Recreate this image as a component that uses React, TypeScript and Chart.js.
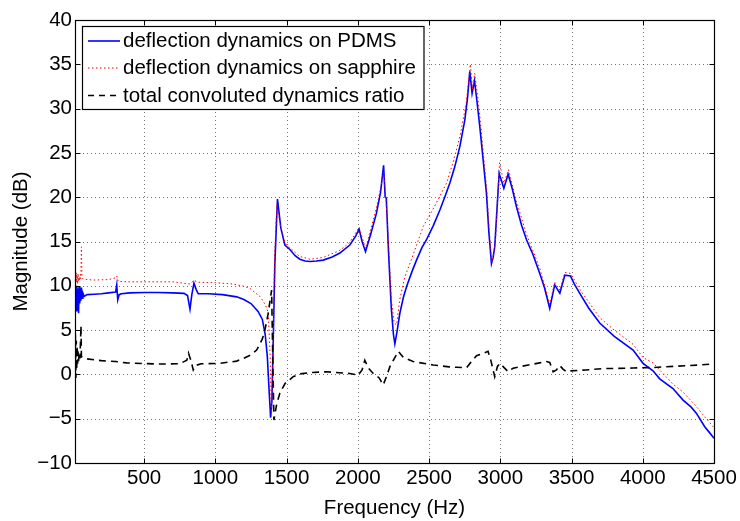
import React, { useEffect, useRef } from "react";
import { Chart, registerables } from "chart.js";

Chart.register(...registerables);

// ---------------- data ----------------
const xTickValues = [500, 1000, 1500, 2000, 2500, 3000, 3500, 4000, 4500];
const yTickValues = [-10, -5, 0, 5, 10, 15, 20, 25, 30, 35, 40];

const seriesLabels = [
  "deflection dynamics on PDMS",
  "deflection dynamics on sapphire",
  "total convoluted dynamics ratio",
];

const pdmsFreq = [
  15, 20, 24, 28, 32, 36, 40, 44, 48, 52, 56, 60, 65, 70, 80, 100, 150, 200, 250, 300,
  308, 315, 325, 340, 400, 500, 600, 700, 780, 805, 822, 835, 850, 865, 880, 950, 1050,
  1150, 1200, 1250, 1300, 1330, 1350, 1365, 1378, 1388, 1397, 1408, 1418, 1436, 1460,
  1488, 1523, 1560, 1593, 1630, 1664, 1710, 1757, 1820, 1874, 1944, 1985, 2009, 2030,
  2054, 2090, 2131, 2160, 2181, 2192, 2200, 2215, 2235, 2250, 2260, 2275, 2295, 2320,
  2342, 2380, 2412, 2450, 2482, 2530, 2576, 2610, 2646, 2680, 2716, 2751, 2770, 2786, 2802,
  2819, 2835, 2856, 2878, 2903, 2920, 2938, 2950, 2961, 2980, 2992, 3025, 3055, 3085,
  3114, 3150, 3184, 3230, 3277, 3310, 3347, 3382, 3418, 3453, 3493, 3520, 3558, 3620,
  3698, 3800, 3932, 4002, 4072, 4119, 4212, 4283, 4340, 4377, 4435, 4470, 4500,
];
const pdmsDb = [
  7.8, 9.6, 7.2, 10.0, 7.6, 9.7, 6.9, 9.9, 8.0, 9.4, 8.3, 9.8, 8.6, 9.2, 8.8, 9.0, 9.05, 9.1, 9.2, 9.3,
  10.1, 8.4, 9.0, 9.1, 9.2, 9.25, 9.25, 9.2, 9.15, 8.9, 7.35, 9.0, 10.3, 9.6, 9.1, 9.1, 9.0,
  8.75, 8.45, 8.0, 7.1, 6.2, 4.5, 2.0, -2.0, -4.9, -3.0, 5.0, 12.6, 19.8, 16.5,
  14.6, 14.1, 13.4, 13.0, 12.8, 12.75, 12.8, 12.9, 13.25, 13.7, 14.6, 15.6, 16.4, 15.0,
  13.85, 15.8, 18.2, 20.6, 23.6, 20.0, 19.9, 14.0, 7.5, 4.5, 3.45, 4.8, 6.9, 8.7,
  9.9, 11.6, 12.9, 14.3, 15.2, 16.8, 18.55, 20.0, 21.6, 23.4, 25.7, 28.7, 31.2, 34.2, 31.7,
  33.15, 31.0, 28.0, 24.5, 20.4, 16.0, 12.5, 13.2, 14.4, 19.5, 22.7, 21.0, 22.6, 20.9,
  18.9, 16.8, 15.2, 13.5, 11.4, 9.8, 7.45, 10.1, 9.15, 11.2, 11.1, 10.2, 9.15, 7.5,
  5.8, 4.3, 2.75, 1.25, 0.4, -0.5, -1.6, -2.9, -3.7, -4.4, -5.9, -6.6, -7.2,
];

const sapphireFreq = [
  15, 18, 21, 24, 27, 30, 33, 36, 40, 44, 48, 52, 56, 60, 64, 70, 100, 150, 250, 300,
  308, 318, 380, 500, 700, 822, 850, 880, 1000, 1125, 1200, 1243, 1313, 1350, 1371, 1385,
  1393, 1402, 1415, 1432, 1460, 1490, 1530, 1593, 1664, 1757, 1874, 1944, 2009, 2054,
  2131, 2160, 2181, 2195, 2215, 2235, 2255, 2272, 2295, 2330, 2377, 2459, 2540, 2623,
  2670, 2716, 2760, 2790, 2805, 2820, 2840, 2860, 2905, 2922, 2940, 2952, 2966,
  2985, 2995, 3025, 3058, 3114, 3184, 3277, 3347, 3382, 3418, 3453, 3493, 3558, 3698,
  3800, 3932, 4002, 4072, 4212, 4283, 4377, 4435, 4500,
];
const sapphireDb = [
  10.6, 11.3, 10.3, 11.5, 10.4, 11.2, 10.2, 11.4, 10.5, 11.0, 10.6, 11.3, 10.8, 14.4, 10.9, 10.8, 10.7, 10.65, 10.7, 10.9,
  11.1, 10.5, 10.45, 10.45, 10.45, 10.2, 10.6, 10.4, 10.35, 10.2, 9.95, 9.7, 8.8, 7.9, 7.0, 2.0,
  -4.3, 0.0, 13.0, 19.2, 16.5, 14.8, 14.2, 13.3, 13.0, 13.2, 14.0, 14.9, 16.6, 14.2,
  18.8, 21.0, 22.8, 20.4, 15.0, 8.5, 5.8, 5.6, 8.5, 11.0, 13.0, 16.7, 19.0, 21.6,
  24.0, 26.8, 30.5, 35.0, 32.2, 34.0, 31.5, 28.6, 20.8, 16.4, 12.7, 13.6, 15.0,
  21.0, 23.9, 21.6, 23.1, 19.5, 15.8, 12.0, 7.9, 10.4, 9.5, 11.5, 11.4, 9.6, 6.4,
  5.0, 3.4, 1.9, 1.3, -1.1, -2.0, -3.65, -4.8, -6.0,
];

const ratioFreq = [
  15, 18, 21, 24, 27, 30, 33, 36, 40, 44, 50, 57, 60, 70, 100, 200, 300, 378, 500, 611,
  750, 800, 812, 830, 845, 860, 900, 1032, 1150, 1196, 1250, 1290, 1330, 1348, 1370, 1395,
  1403, 1411, 1430, 1453, 1490, 1523, 1546, 1593, 1664, 1781, 1944, 2002, 2030, 2049,
  2075, 2108, 2150, 2178, 2200, 2225, 2260, 2285, 2320, 2388, 2529, 2640, 2693, 2763,
  2790, 2833, 2914, 2935, 2961, 2980, 2997, 3025, 3055, 3090, 3137, 3277, 3324, 3347,
  3371, 3394, 3418, 3440, 3464, 3488, 3600, 3721, 3932, 4072, 4400, 4500,
];
const ratioDb = [
  1.0, 4.5, -0.4, 3.8, 0.5, 3.2, 1.2, 2.6, 1.5, 2.4, 1.8, 5.5, 2.0, 1.9, 1.75, 1.55, 1.45, 1.3, 1.22, 1.17,
  1.2, 1.6, 2.4, 1.5, 0.5, 1.0, 1.2, 1.25, 1.5, 1.8, 2.2, 2.75, 4.0, 5.0, 6.8, 9.5,
  2.0, -5.15, -3.4, -2.1, -1.0, -0.6, -0.26, 0.05, 0.2, 0.3, 0.1, -0.07, 0.5, 1.6,
  0.7, 0.1, -0.4, -1.2, -0.3, 0.87, 1.9, 2.6, 1.9, 1.45, 1.06, 0.85, 0.8, 0.75,
  1.3, 2.1, 2.6, 1.5, -0.26, 0.9, 1.25, 0.8, 0.3, 0.7, 0.87, 1.3, 1.45, 1.35,
  0.3, 0.5, 1.0, 0.6, 0.3, 0.4, 0.5, 0.65, 0.72, 0.78, 1.06, 1.2,
];

// ---------------- styling ----------------
const FONT_FAMILY = '"Liberation Sans", Arial, Helvetica, sans-serif';
const FONT_SIZE = 20.5;
const X_MIN = 15;
const X_MAX = 4500;

const toPoints = (xs: number[], ys: number[]) => xs.map((x, i) => ({ x, y: ys[i] }));

const seriesStyles = [
  { color: "#0000ff", width: 1.6, dash: [] as number[] },
  { color: "#ff0000", width: 1, dash: [1.5, 2.5] },
  { color: "#000000", width: 1.6, dash: [7, 5] },
];

const framePlugin = {
  id: "matlabFrame",
  beforeDatasetsDraw(chart: any) {
    const { ctx, chartArea } = chart;
    const { left, right, top, bottom } = chartArea;
    const xs = chart.scales.x;
    const ys = chart.scales.y;
    ctx.save();
    ctx.strokeStyle = "rgba(0,0,0,0.55)";
    ctx.lineWidth = 1;
    ctx.setLineDash([1, 3]);
    for (const t of xTickValues) {
      const px = Math.round(xs.getPixelForValue(t)) + 0.5;
      if (px <= left + 1 || px >= right - 1) continue;
      ctx.beginPath();
      ctx.moveTo(px, top);
      ctx.lineTo(px, bottom);
      ctx.stroke();
    }
    for (const t of yTickValues) {
      const py = Math.round(ys.getPixelForValue(t)) + 0.5;
      if (py <= top + 1 || py >= bottom - 1) continue;
      ctx.beginPath();
      ctx.moveTo(left, py);
      ctx.lineTo(right, py);
      ctx.stroke();
    }
    ctx.restore();
  },
  afterDatasetsDraw(chart: any) {
    const { ctx, chartArea } = chart;
    const { left, right, top, bottom } = chartArea;
    const xs = chart.scales.x;
    const ys = chart.scales.y;
    const L = Math.round(left) + 0.5;
    const R = Math.round(right) + 0.5;
    const T = Math.round(top) + 0.5;
    const B = Math.round(bottom) + 0.5;
    ctx.save();
    ctx.setLineDash([]);
    ctx.strokeStyle = "#000";
    ctx.lineWidth = 1.2;
    ctx.strokeRect(L, T, R - L, B - T);
    const tl = 5;
    ctx.lineWidth = 1;
    for (const t of xTickValues) {
      const px = Math.round(xs.getPixelForValue(t)) + 0.5;
      ctx.beginPath();
      ctx.moveTo(px, B);
      ctx.lineTo(px, B - tl);
      ctx.moveTo(px, T);
      ctx.lineTo(px, T + tl);
      ctx.stroke();
    }
    for (const t of yTickValues) {
      const py = Math.round(ys.getPixelForValue(t)) + 0.5;
      ctx.beginPath();
      ctx.moveTo(L, py);
      ctx.lineTo(L + tl, py);
      ctx.moveTo(R, py);
      ctx.lineTo(R - tl, py);
      ctx.stroke();
    }
    ctx.restore();
  },
  afterDraw(chart: any) {
    const { ctx } = chart;
    const bx = 82.5;
    const by = 26.5;
    const bw = 341.5;
    const bh = 83;
    ctx.save();
    ctx.fillStyle = "#fff";
    ctx.fillRect(bx, by, bw, bh);
    ctx.strokeStyle = "#000";
    ctx.lineWidth = 1.2;
    ctx.setLineDash([]);
    ctx.strokeRect(bx, by, bw, bh);
    const rows = [41, 68, 95.5];
    const legendDash = [[], [1.5, 2.5], [6, 5]];
    chart.data.datasets.forEach((ds: any, i: number) => {
      const y = rows[i];
      ctx.beginPath();
      ctx.strokeStyle = ds.borderColor;
      ctx.lineWidth = ds.borderWidth;
      ctx.setLineDash(legendDash[i]);
      ctx.moveTo(88, y);
      ctx.lineTo(120, y);
      ctx.stroke();
      ctx.setLineDash([]);
      ctx.fillStyle = "#000";
      ctx.font = `${FONT_SIZE}px ${FONT_FAMILY}`;
      ctx.textBaseline = "middle";
      ctx.textAlign = "left";
      ctx.fillText(ds.label, 123, y + 0.5);
    });
    ctx.restore();
  },
};

export default function App() {
  const canvasRef = useRef<HTMLCanvasElement | null>(null);

  useEffect(() => {
    const canvas = canvasRef.current;
    if (!canvas) return;
    const font = { family: FONT_FAMILY, size: FONT_SIZE };
    const seriesData = [
      toPoints(pdmsFreq, pdmsDb),
      toPoints(sapphireFreq, sapphireDb),
      toPoints(ratioFreq, ratioDb),
    ];
    const chart = new Chart(canvas, {
      type: "line",
      data: {
        datasets: seriesData.map((d, i) => ({
          label: seriesLabels[i],
          data: d,
          borderColor: seriesStyles[i].color,
          borderWidth: seriesStyles[i].width,
          borderDash: seriesStyles[i].dash,
          pointRadius: 0,
          tension: 0,
          fill: false,
          order: 2 - i,
        })),
      },
      options: {
        responsive: false,
        animation: false,
        parsing: true,
        layout: { padding: { left: 0, right: 26, top: 20, bottom: 0 } },
        plugins: {
          legend: { display: false },
          tooltip: { enabled: false },
          title: { display: false },
        },
        scales: {
          x: {
            type: "linear",
            min: X_MIN,
            max: X_MAX,
            afterBuildTicks: (s: any) => {
              s.ticks = xTickValues.map((v) => ({ value: v }));
            },
            afterFit: (s: any) => {
              s.height = 58;
            },
            ticks: {
              font,
              color: "#000",
              padding: 3,
              maxRotation: 0,
              autoSkip: false,
              callback: (v: any) => String(v),
            },
            grid: { display: false, drawTicks: false },
            border: { display: false },
            title: {
              display: true,
              text: "Frequency (Hz)",
              font,
              color: "#000",
              padding: { top: 0, bottom: 0 },
            },
          },
          y: {
            type: "linear",
            min: -10,
            max: 40,
            afterBuildTicks: (s: any) => {
              s.ticks = yTickValues.map((v) => ({ value: v }));
            },
            afterFit: (s: any) => {
              s.width = 75;
            },
            ticks: {
              font,
              color: "#000",
              padding: 3,
              autoSkip: false,
              callback: (v: any) => (v < 0 ? "\u2212" + Math.abs(v) : String(v)),
            },
            grid: { display: false, drawTicks: false },
            border: { display: false },
            title: {
              display: true,
              text: "Magnitude (dB)",
              font,
              color: "#000",
              padding: { top: 9, bottom: 0 },
            },
          },
        },
      },
      plugins: [framePlugin],
    });
    return () => chart.destroy();
  }, []);

  return (
    <div style={{ position: "absolute", left: 0, top: 0, width: 740, height: 521, background: "#fff" }}>
      <canvas ref={canvasRef} width={740} height={521} style={{ display: "block" }} />
    </div>
  );
}
